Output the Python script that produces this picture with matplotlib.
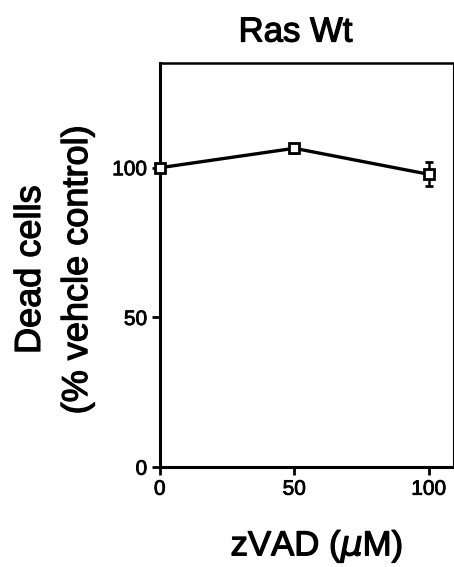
import matplotlib
matplotlib.use("Agg")
import matplotlib.pyplot as plt
import matplotlib.patheffects as pe

plt.rcParams['font.family'] = ['Liberation Sans', 'DejaVu Sans']

dose = [0, 50, 100]
dead_cells = [100, 106.5, 97.8]
errors = [1.0, 1.5, 4.0]
xticks = [0, 50, 100]
yticks = [0, 50, 100]

thick = [pe.withStroke(linewidth=0.9, foreground='black')]

fig = plt.figure(figsize=(4.54, 5.67), dpi=100)
ax = fig.add_axes([0.352, 0.176, 0.646, 0.713])

ax.errorbar(dose, dead_cells, yerr=errors, color='black', lw=2.4,
            marker='s', ms=6.5, mfc='white', mec='black', mew=2,
            capsize=3, elinewidth=1.8, capthick=1.8, clip_on=False, zorder=3)

ax.set_xlim(0, 109)
ax.set_ylim(0, 135)
ax.set_xticks(xticks)
ax.set_yticks(yticks)
ax.tick_params(direction='out', length=6, width=2, labelsize=15, pad=3)
for lbl in ax.get_xticklabels() + ax.get_yticklabels():
    lbl.set_path_effects([pe.withStroke(linewidth=0.6, foreground='black')])

ax.spines['left'].set_linewidth(2.2)
ax.spines['bottom'].set_linewidth(2.2)
ax.spines['top'].set_linewidth(1.8)
ax.spines['right'].set_linewidth(0.8)

fig.text(0.651, 1 - 32 / 567, 'Ras Wt', fontsize=25, ha='center', va='center',
         path_effects=thick)
fig.text(0.698, 1 - 546 / 567, 'zVAD ($\\mu$M)', fontsize=25, ha='center', va='center',
         path_effects=thick)
fig.text(54 / 454, 1 - 270 / 567, 'Dead cells\n(% vehcle control)', fontsize=26,
         rotation=90, ha='center', va='center', linespacing=1.45, multialignment='center',
         path_effects=thick)

fig.savefig('out.png', dpi=100)
